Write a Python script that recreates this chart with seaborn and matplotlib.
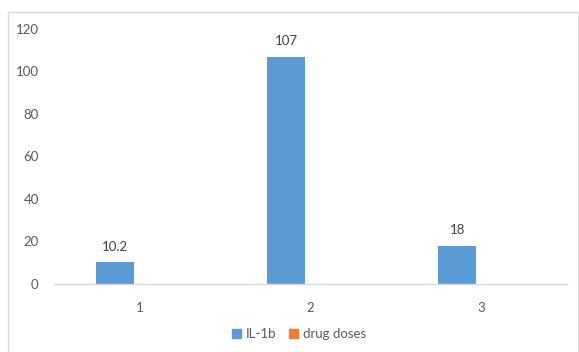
import matplotlib
matplotlib.use("Agg")
import matplotlib.pyplot as plt
import seaborn as sns
import pandas as pd
from matplotlib.patches import Rectangle

categories = ["1", "2", "3"]
il1b = [10.2, 107, 18]
drug_doses = [0, 0, 0]
series_names = ["IL-1b", "drug doses"]
y_ticks = [0, 20, 40, 60, 80, 100, 120]

df = pd.DataFrame({
    "cat": categories * 2,
    "value": il1b + drug_doses,
    "series": [series_names[0]] * 3 + [series_names[1]] * 3,
})

sns.set_theme(style="white")
plt.rcParams["font.family"] = ["Lato", "DejaVu Sans"]

fig = plt.figure(figsize=(5.79, 3.52), dpi=100)
ax = fig.add_axes([54 / 579, 1 - 284 / 352, (567 - 54) / 579, (284 - 29) / 352])

palette = {"IL-1b": "#5B9BD5", "drug doses": "#ED7D31"}
sns.barplot(data=df, x="cat", y="value", hue="series", order=categories,
            hue_order=series_names, palette=palette, width=0.572, gap=0.224,
            saturation=1, ax=ax, legend=False, linewidth=0)

ax.set_ylim(0, 120)
ax.set_xlim(-0.5, 2.5)
ax.set_yticks(y_ticks)
ax.set_yticklabels([str(t) for t in y_ticks])
ax.set_xlabel("")
ax.set_ylabel("")
for s in ["top", "right", "left"]:
    ax.spines[s].set_visible(False)
ax.spines["bottom"].set_color("#D9D9D9")
ax.spines["bottom"].set_linewidth(1.0)
ax.tick_params(axis="both", length=0, labelsize=9.5, colors="#595959")
ax.tick_params(axis="y", pad=11)
ax.tick_params(axis="x", pad=13)

# data labels for IL-1b only
cont = ax.containers[0]
ax.bar_label(cont, labels=[f"{v:g}" for v in il1b], padding=7, fontsize=9.5, color="#404040")

# chart border
fig.patches.append(Rectangle((8 / 579, -0.01), (578 - 8) / 579, 1 - 12 / 352 + 0.01,
                             transform=fig.transFigure, fill=False,
                             edgecolor="#D9D9D9", linewidth=1.0))

handles = [Rectangle((0, 0), 1, 1, color=palette[n]) for n in series_names]
fig.legend(handles, series_names, loc="center", bbox_to_anchor=(299 / 579, 1 - 334 / 352),
           ncol=2, frameon=False, fontsize=9.5, handlelength=0.7, handleheight=0.7,
           handletextpad=0.4, columnspacing=0.9, labelcolor="#595959")

fig.savefig("out.png", dpi=100)
